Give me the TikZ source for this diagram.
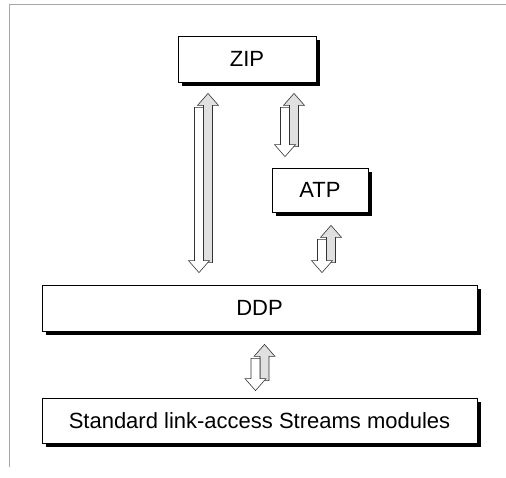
\documentclass[tikz,border=0pt]{standalone}
\usepackage{fontspec}
\setmainfont{Liberation Sans}
\usetikzlibrary{calc,shadows}

\begin{document}
\begin{tikzpicture}[x=1pt,y=1pt]
   % Styles des boîtes et des flèches
   \tikzset{
      boite/.style={draw, fill=white, line width=0.8pt, inner sep=0pt,
         font=\fontsize{22}{26}\selectfont,
         drop shadow={shadow xshift=3.5pt, shadow yshift=-3.5pt, fill=black, opacity=1}},
      montee/.style={draw=black!80, fill=black!12, line width=0.6pt},
      descente/.style={draw=black!80, fill=white, line width=0.6pt}
   }
   % Double flèche : #1 boîte du haut, #2 boîte du bas, #3 abscisse, #4 et #5 écarts
   \def\duplex#1#2#3#4#5{%
      \path let \p1=(#1.south), \p2=(#2.north) in
         [montee] ({#3pt+4.5pt},{\y1-#4pt}) -- ({#3pt+15pt},{\y1-#4pt-12pt})
         -- ({#3pt+9pt},{\y1-#4pt-12pt}) -- ({#3pt+9pt},{\y2+#5pt+10pt})
         -- ({#3pt},{\y2+#5pt+10pt}) -- ({#3pt},{\y1-#4pt-12pt})
         -- ({#3pt-6pt},{\y1-#4pt-12pt}) -- cycle; % flèche montante
      \path let \p1=(#1.south), \p2=(#2.north) in
         [descente] ({#3pt-4.5pt},{\y2+#5pt}) -- ({#3pt+6pt},{\y2+#5pt+12pt})
         -- ({#3pt},{\y2+#5pt+12pt}) -- ({#3pt},{\y1-#4pt-14pt})
         -- ({#3pt-9pt},{\y1-#4pt-14pt}) -- ({#3pt-9pt},{\y2+#5pt+12pt})
         -- ({#3pt-15pt},{\y2+#5pt+12pt}) -- cycle; % flèche descendante
   }

   \useasboundingbox (0,0) rectangle (506,-477);

   % Cadre
   \draw[black!35, line width=1pt] (9,-467) -- (9,-4) -- (506,-4);

   % Boîtes
   \node[boite, minimum width=138pt, minimum height=46pt] (zip) at (247,-59) {ZIP};
   \node[boite, minimum width=96pt, minimum height=44pt] (atp) at (320,-190) {ATP};
   \node[boite, minimum width=435pt, minimum height=46pt] (ddp) at (259.5,-308) {DDP};
   \node[boite, minimum width=435pt, minimum height=45pt] (slm) at (259.5,-420.5) {Standard link-access Streams modules};

   % Flèches
   \duplex{zip}{ddp}{203.5}{11}{12}
   \duplex{zip}{atp}{289.5}{11}{11}
   \duplex{atp}{ddp}{326.5}{13}{12}
   \duplex{ddp}{slm}{260}{13}{7}
\end{tikzpicture}
\end{document}
